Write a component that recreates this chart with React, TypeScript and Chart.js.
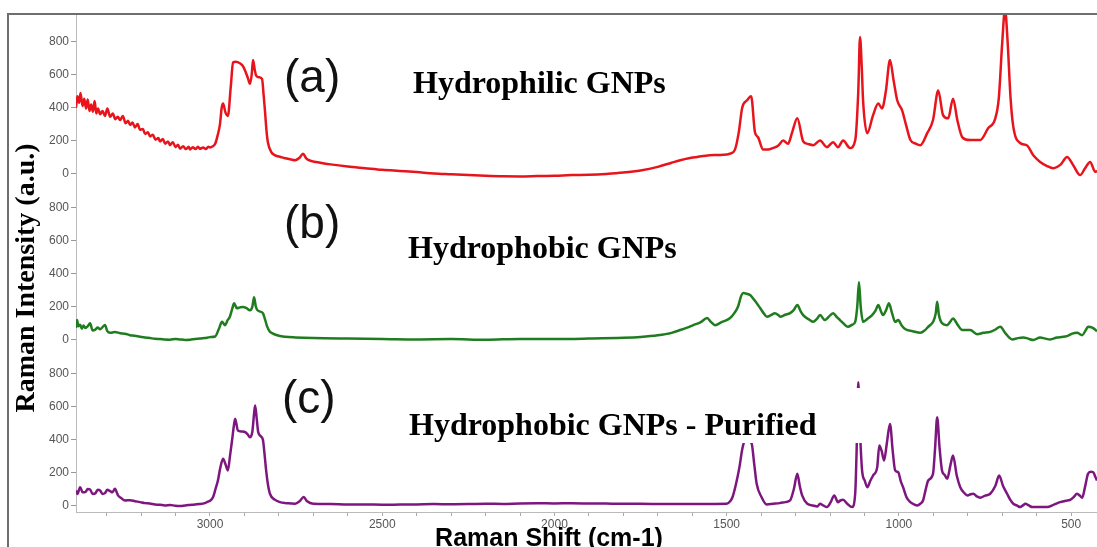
import React, { useEffect, useRef } from 'react';
import { Chart, registerables } from 'chart.js';

Chart.register(...registerables);

// Raman shift (cm-1) and intensity (a.u.) for each sample
const shiftA = [
  3389, 3385, 3380, 3376, 3370, 3365, 3360, 3355, 3350, 3345,
  3340, 3335, 3330, 3325, 3319, 3312, 3305, 3298, 3290, 3282,
  3275, 3268, 3261, 3253, 3245, 3238, 3232, 3225, 3218, 3210,
  3203, 3195, 3188, 3180, 3174, 3166, 3158, 3150, 3145, 3137,
  3130, 3122, 3116, 3108, 3100, 3093, 3087, 3078, 3070, 3062,
  3058, 3050, 3042, 3035, 3029, 3020, 3012, 3005, 3000, 2992,
  2985, 2978, 2971, 2966, 2962, 2955, 2948, 2940, 2933, 2925,
  2913, 2905, 2898, 2890, 2884, 2879, 2875, 2870, 2866, 2858,
  2849, 2844, 2840, 2836, 2832, 2822, 2811, 2795, 2782, 2765,
  2753, 2740, 2730, 2720, 2705, 2680, 2650, 2600, 2550, 2500,
  2450, 2400, 2350, 2300, 2250, 2200, 2150, 2100, 2050, 2000,
  1950, 1900, 1850, 1800, 1750, 1700, 1660, 1635, 1610, 1586,
  1560, 1530, 1500, 1490, 1476, 1465, 1455, 1441, 1429, 1418,
  1409, 1394, 1380, 1365, 1350, 1336, 1322, 1310, 1295, 1278,
  1265, 1249, 1229, 1209, 1191, 1177, 1162, 1142, 1127, 1118,
  1113, 1108, 1104, 1092, 1075, 1060, 1049, 1038, 1026, 1015,
  1005, 991, 980, 967, 950, 938, 918, 901, 886, 872,
  857, 843, 830, 816, 793, 764, 741, 721, 710, 700,
  692, 685, 676, 668, 648, 628, 610, 590, 570, 552,
  530, 512, 494, 474, 460, 445, 430, 425,
];
const intensityA = [
  400, 470, 430, 490, 410, 455, 395, 450, 380, 420,
  375, 440, 365, 395, 360, 380, 350, 395, 345, 365,
  330, 345, 325, 350, 305, 320, 295, 310, 280, 300,
  265, 270, 240, 250, 225, 235, 205, 215, 195, 210,
  180, 195, 172, 190, 160, 175, 150, 165, 148, 162,
  145, 160, 148, 162, 150, 158, 148, 162, 158, 165,
  180, 230, 300, 400, 425, 370, 350, 520, 675, 680,
  670, 655, 625, 580, 545, 600, 690, 630, 595, 585,
  575, 470, 370, 260, 190, 130, 110, 100, 92, 85,
  80, 95, 120, 90, 75, 65, 55, 42, 32, 22,
  15, 8, 0, -5, -10, -14, -17, -18, -16, -14,
  -10, -8, -3, 5, 18, 40, 65, 80, 92, 100,
  108, 112, 115, 120, 145, 250, 400, 445, 470, 250,
  220, 145, 145, 155, 170, 200, 180, 250, 335, 195,
  180, 172, 200, 160, 190, 160, 200, 155, 200, 500,
  830, 650, 440, 245, 355, 425, 395, 500, 690, 560,
  445, 385, 300, 205, 180, 172, 245, 325, 505, 355,
  335, 455, 320, 220, 203, 203, 275, 330, 460, 800,
  1000, 820, 460, 285, 185, 170, 110, 70, 45, 32,
  55, 100, 50, -10, 30, 70, 10, 15,
];

const shiftB = [
  3389, 3386, 3382, 3377, 3372, 3367, 3362, 3355, 3348, 3341,
  3333, 3326, 3319, 3312, 3305, 3298, 3290, 3276, 3261, 3247,
  3232, 3218, 3203, 3189, 3174, 3160, 3145, 3130, 3116, 3100,
  3087, 3072, 3058, 3044, 3029, 3015, 3000, 2985, 2975, 2965,
  2957, 2948, 2942, 2935, 2930, 2922, 2913, 2904, 2895, 2884,
  2877, 2872, 2867, 2863, 2855, 2846, 2840, 2834, 2827, 2820,
  2800, 2782, 2753, 2700, 2600, 2500, 2400, 2300, 2200, 2100,
  2000, 1900, 1800, 1750, 1700, 1660, 1635, 1615, 1597, 1575,
  1557, 1545, 1534, 1515, 1490, 1478, 1467, 1458, 1452, 1442,
  1432, 1418, 1403, 1393, 1383, 1370, 1360, 1350, 1345, 1330,
  1316, 1305, 1295, 1285, 1278, 1260, 1249, 1238, 1229, 1215,
  1205, 1191, 1180, 1171, 1160, 1148, 1135, 1127, 1121, 1116,
  1111, 1104, 1092, 1078, 1068, 1060, 1052, 1046, 1037, 1029,
  1020, 1011, 1002, 992, 982, 960, 938, 925, 915, 900,
  893, 889, 884, 875, 860, 852, 843, 830, 816, 793,
  773, 755, 735, 720, 706, 690, 671, 655, 639, 625,
  610, 590, 575, 561, 541, 527, 512, 497, 483, 468,
  458, 451, 436, 425,
];
const intensityB = [
  70, 118, 80, 90, 65, 85, 70, 80, 99, 55,
  60, 72, 62, 75, 88, 50, 40, 45, 38, 35,
  26, 22, 16, 12, 8, 4, 2, -1, -2, 3,
  0, -3, -2, 3, 5, 8, 14, 18, 60, 107,
  87, 120, 140, 190, 220, 190, 195, 198, 192, 178,
  200, 256, 200, 180, 170, 158, 120, 78, 50, 38,
  22, 16, 12, 8, 5, 3, 0, 2, -2, 3,
  2, 5, 10, 15, 25, 40, 57, 72, 87, 105,
  130, 105, 87, 105, 130, 160, 200, 265, 282, 278,
  270, 235, 191, 160, 138, 150, 160, 148, 138, 150,
  160, 180, 209, 170, 148, 120, 107, 125, 148, 118,
  135, 160, 135, 118, 95, 77, 90, 107, 200, 350,
  200, 107, 125, 148, 175, 209, 170, 148, 180, 220,
  160, 107, 118, 85, 63, 50, 40, 55, 77, 110,
  160, 229, 150, 99, 87, 105, 128, 90, 57, 57,
  32, 40, 46, 60, 77, 35, 0, 8, 12, 5,
  -4, 12, 5, 0, 12, 15, 20, 35, 40, 26,
  55, 77, 69, 50,
];

const shiftC = [
  3389, 3385, 3377, 3370, 3362, 3355, 3348, 3341, 3333, 3326,
  3319, 3312, 3305, 3298, 3290, 3283, 3276, 3267, 3258, 3247,
  3232, 3218, 3203, 3189, 3175, 3160, 3145, 3131, 3116, 3101,
  3087, 3072, 3058, 3044, 3030, 3015, 3009, 2999, 2991, 2984,
  2977, 2970, 2962, 2955, 2948, 2942, 2936, 2931, 2927, 2919,
  2908, 2898, 2890, 2884, 2877, 2872, 2869, 2864, 2860, 2852,
  2846, 2842, 2837, 2832, 2826, 2812, 2797, 2782, 2765, 2753,
  2740, 2728, 2718, 2700, 2650, 2600, 2550, 2500, 2450, 2400,
  2350, 2300, 2250, 2200, 2150, 2100, 2050, 2000, 1950, 1900,
  1850, 1800, 1750, 1700, 1650, 1600, 1550, 1500, 1490, 1483,
  1473, 1463, 1455, 1449, 1438, 1428, 1420, 1413, 1399, 1384,
  1365, 1346, 1330, 1316, 1305, 1295, 1288, 1281, 1266, 1250,
  1237, 1229, 1220, 1209, 1198, 1188, 1177, 1170, 1162, 1150,
  1136, 1127, 1122, 1118, 1113, 1107, 1099, 1092, 1083, 1075,
  1063, 1057, 1050, 1043, 1035, 1026, 1018, 1011, 1002, 995,
  988, 978, 967, 955, 947, 938, 930, 923, 915, 901,
  895, 889, 882, 875, 867, 860, 850, 843, 832, 822,
  810, 801, 792, 784, 774, 764, 750, 735, 720, 709,
  698, 686, 677, 668, 658, 648, 640, 633, 623, 613,
  590, 570, 550, 532, 515, 503, 493, 483, 475, 468,
  460, 451, 443, 436, 430, 425,
];
const intensityC = [
  91, 70, 111, 80, 81, 100, 97, 70, 73, 95,
  91, 70, 75, 95, 87, 80, 101, 61, 45, 30,
  32, 26, 20, 14, 12, 6, 4, 0, 3, -2,
  -4, 0, 3, 6, 8, 14, 20, 30, 51, 100,
  152, 230, 284, 250, 213, 300, 395, 480, 527, 456,
  450, 446, 430, 415, 450, 560, 608, 520, 446, 420,
  395, 320, 213, 130, 71, 35, 20, 14, 12, 10,
  25, 51, 25, 10, 8, 5, 6, 4, 5, 6,
  8, 7, 8, 10, 9, 12, 13, 12, 13, 12,
  11, 10, 10, 9, 8, 8, 9, 10, 25, 51,
  130, 233, 340, 385, 390, 380, 250, 132, 51, 6,
  10, 14, 20, 30, 100, 193, 120, 61, 10, 0,
  -6, 10, 0, -10, 20, 61, 20, 30, 34, 10,
  -10, 71, 400, 750, 450, 213, 150, 111, 150, 182,
  233, 365, 330, 273, 380, 496, 330, 213, 202, 150,
  111, 50, 20, 5, 0, 10, 30, 90, 152, 193,
  350, 536, 350, 213, 185, 162, 250, 304, 180, 111,
  75, 61, 68, 71, 55, 47, 60, 71, 120, 182,
  120, 71, 35, 10, 0, -10, 0, 10, 0, -10,
  -10, -10, 5, 20, 28, 34, 50, 71, 60, 47,
  110, 193, 205, 202, 175, 152,
];

// axis ticks
const xTickLabels = [3000, 2500, 2000, 1500, 1000, 500];
const xMinorStep = 100;
const yTickValues = [0, 200, 400, 600, 800];

// panel captions
const panelTags = ['(a)', '(b)', '(c)'];
const panelNames = ['Hydrophilic GNPs', 'Hydrophobic GNPs', 'Hydrophobic GNPs - Purified'];
const seriesColors = ['#e8141c', '#1f7d1f', '#7d177f'];

const SANS = '"Liberation Sans", Arial, sans-serif';
const SERIF = '"Liberation Serif", "Times New Roman", serif';

const W = 1097;
const H = 547;

const toPoints = (xs: number[], ys: number[]) => xs.map((x, i) => ({ x, y: ys[i] }));

const panelScale = (weight: number) => ({
  type: 'linear',
  position: 'left',
  stack: 'panels',
  stackWeight: 1,
  weight,
  min: -40,
  max: 970,
  afterBuildTicks: (s: any) => {
    s.ticks = yTickValues.map((v) => ({ value: v }));
  },
  afterFit: (s: any) => {
    s.width = 76;
  },
  ticks: { color: '#555', font: { family: SANS, size: 12 }, padding: 2 },
  grid: { drawOnChartArea: false, tickLength: 5, tickColor: '#999', color: '#999' },
  border: { color: '#bbb', width: 1 },
});

// captions, the white label box, the outer frame and the axis titles
const decorPlugin = {
  id: 'decor',
  afterDatasetsDraw(chart: any) {
    const ctx = chart.ctx as CanvasRenderingContext2D;
    ctx.save();
    // white box behind the third caption
    ctx.fillStyle = '#ffffff';
    ctx.fillRect(405, 388, 478, 55);

    ctx.fillStyle = '#111';
    ctx.textAlign = 'left';
    ctx.textBaseline = 'alphabetic';
    const tagSpots = [
      [284, 92],
      [284, 238],
      [282, 413],
    ];
    ctx.font = `46px ${SANS}`;
    panelTags.forEach((t, i) => ctx.fillText(t, tagSpots[i][0], tagSpots[i][1]));

    const nameSpots = [
      [413, 93],
      [408, 258],
      [409, 435],
    ];
    ctx.fillStyle = '#000';
    ctx.font = `bold 32px ${SERIF}`;
    panelNames.forEach((t, i) => ctx.fillText(t, nameSpots[i][0], nameSpots[i][1]));
    ctx.restore();
  },
  afterDraw(chart: any) {
    const ctx = chart.ctx as CanvasRenderingContext2D;
    ctx.save();
    // outer frame (left and top edges)
    ctx.strokeStyle = '#6e6e6e';
    ctx.lineWidth = 2;
    ctx.beginPath();
    ctx.moveTo(8, H);
    ctx.lineTo(8, 14);
    ctx.lineTo(W, 14);
    ctx.stroke();

    // y-axis title
    ctx.fillStyle = '#000';
    ctx.font = `bold 28px ${SERIF}`;
    ctx.textAlign = 'center';
    ctx.textBaseline = 'alphabetic';
    ctx.translate(34, 278);
    ctx.rotate(-Math.PI / 2);
    ctx.fillText('Raman Intensity (a.u.)', 0, 0);
    ctx.restore();

    // x-axis title
    ctx.save();
    ctx.fillStyle = '#000';
    ctx.font = `bold 25px ${SANS}`;
    ctx.textAlign = 'center';
    ctx.textBaseline = 'alphabetic';
    ctx.fillText('Raman Shift (cm-1)', 549, 546);
    ctx.restore();
  },
};

export default function App() {
  const canvasRef = useRef<HTMLCanvasElement | null>(null);

  useEffect(() => {
    const canvas = canvasRef.current;
    if (!canvas) return;
    const series = [
      { pts: toPoints(shiftA, intensityA), axis: 'ya' },
      { pts: toPoints(shiftB, intensityB), axis: 'yb' },
      { pts: toPoints(shiftC, intensityC), axis: 'yc' },
    ];
    const chart = new Chart(canvas, {
      type: 'line',
      data: {
        datasets: series.map((s, i) => ({
          label: panelNames[i],
          data: s.pts,
          yAxisID: s.axis,
          borderColor: seriesColors[i],
          borderWidth: 2.5,
          pointRadius: 0,
          fill: false,
          cubicInterpolationMode: 'monotone',
        })),
      },
      options: {
        animation: false,
        responsive: false,
        devicePixelRatio: 1,
        layout: { padding: { top: 14, left: 0, right: 0, bottom: 0 } },
        plugins: { legend: { display: false }, tooltip: { enabled: false } },
        scales: {
          x: {
            type: 'linear',
            reverse: true,
            min: 425,
            max: 3389,
            afterBuildTicks: (s: any) => {
              const t = [];
              for (let v = 500; v <= s.max; v += xMinorStep) t.push({ value: v });
              s.ticks = t;
            },
            afterFit: (s: any) => {
              s.height = 35;
            },
            ticks: {
              autoSkip: false,
              maxRotation: 0,
              color: '#555',
              font: { family: SANS, size: 12 },
              padding: 1,
              callback: (v: any) => (xTickLabels.includes(Number(v)) ? String(v) : ''),
            },
            grid: { drawOnChartArea: false, tickLength: 4, tickColor: '#aaa' },
            border: { color: '#bbb', width: 1 },
          },
          ya: panelScale(3),
          yb: panelScale(2),
          yc: panelScale(1),
        } as any,
      },
      plugins: [decorPlugin],
    } as any);
    return () => chart.destroy();
  }, []);

  return (
    <div style={{ position: 'fixed', left: 0, top: 0, width: W, height: H, background: '#fff' }}>
      <canvas ref={canvasRef} width={W} height={H} style={{ display: 'block', width: W, height: H }} />
    </div>
  );
}
